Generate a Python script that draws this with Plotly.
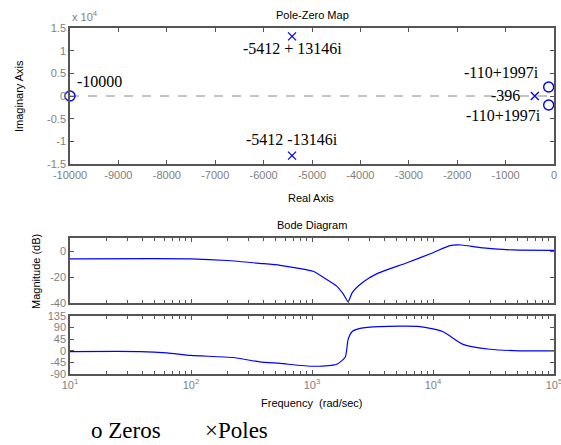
import plotly.graph_objects as go

# ---------------- data ----------------
zero_re = [-10000, -110, -110]
zero_im = [0, 1997, -1997]
pole_re = [-5412, -5412, -396]
pole_im = [13146, -13146, 0]

pz_labels = ["-10000", "-5412 + 13146i", "-5412 -13146i", "-110+1997i", "-396", "-110+1997i"]
pz_label_re = [-10000, -5412, -5412, -110, -396, -110]
pz_label_im = [0, 13146, -13146, 1997, 0, -1997]

freq_mag = [10, 100, 200, 370, 545, 800, 1020, 1230, 1600, 1810, 1990, 2150, 2600,
            3450, 6100, 10000, 13800, 17200, 24500, 46000, 100000]
mag_db = [-6, -6, -7.3, -9.5, -11, -13.5, -15.6, -20, -27, -33, -39, -32, -24.4,
          -17.4, -9, -1.3, 4.2, 4.6, 2.6, 0.8, 0.5]

freq_ph = [10, 38, 63, 100, 222, 370, 545, 1020, 1600, 1880, 1990, 2150, 2500,
           3650, 7800, 12000, 17700, 29500, 52000, 100000]
phase_deg = [-3, -3, -8, -18, -26, -43, -49, -60, -52, -25, 45, 75, 87,
             94, 94, 75, 25, 6, 0, 0]

pz_xticks = [-10000, -9000, -8000, -7000, -6000, -5000, -4000, -3000, -2000, -1000, 0]
pz_xticktext = ["-10000", "-9000", "-8000", "-7000", "-6000", "-5000", "-4000",
                "-3000", "-2000", "-1000", "0"]
pz_yticks = [-15000, -10000, -5000, 0, 5000, 10000, 15000]
pz_yticktext = ["-1.5", "-1", "-0.5", "0", "0.5", "1", "1.5"]
mag_ticks = [-40, -20, 0]
mag_ticktext = ["-40", "-20", "0"]
ph_ticks = [-90, -45, 0, 45, 90, 135]
ph_ticktext = ["-90", "-45", "0", "45", "90", "135"]
freq_ticks = [10, 100, 1000, 10000, 100000]
freq_ticktext = ["10<sup>1</sup>", "10<sup>2</sup>", "10<sup>3</sup>", "10<sup>4</sup>", "10<sup>5</sup>"]
freq_minor = [m * d for d in (10, 100, 1000, 10000) for m in range(2, 10)]

# ---------------- styling ----------------
W, H = 561, 445
BLUE = "#0000FF"
AX = "#555555"
TICKC = "#808080"
SANS = "Arial, Liberation Sans, sans-serif"
SERIF = "Times New Roman, Liberation Serif, serif"

def px(x):
    return x / W

def py(y):
    return 1 - y / H

xdom = [px(70), px(554)]

fig = go.Figure()

# pole-zero
fig.add_trace(go.Scatter(x=zero_re, y=zero_im, mode="markers", xaxis="x", yaxis="y",
                         marker=dict(symbol="circle-open", size=10, color=BLUE, line=dict(width=1.4)),
                         cliponaxis=False, showlegend=False))
fig.add_trace(go.Scatter(x=pole_re, y=pole_im, mode="markers", xaxis="x", yaxis="y",
                         marker=dict(symbol="x-thin-open", size=8, color=BLUE, line=dict(width=1.3, color=BLUE)),
                         cliponaxis=False, showlegend=False))
# bode
fig.add_trace(go.Scatter(x=freq_mag, y=mag_db, mode="lines", xaxis="x2", yaxis="y2",
                         line=dict(color=BLUE, width=1.2, shape="spline", smoothing=0.6), showlegend=False))
fig.add_trace(go.Scatter(x=freq_ph, y=phase_deg, mode="lines", xaxis="x3", yaxis="y3",
                         line=dict(color=BLUE, width=1.2, shape="spline", smoothing=0.6), showlegend=False))

common = dict(showgrid=False, zeroline=False, showline=True, linecolor=AX, linewidth=1.5,
              mirror="ticks", ticks="inside", ticklen=4, tickcolor=AX, tickwidth=1,
              automargin=False, tickmode="array", ticklabeloverflow="allow",
              tickfont=dict(family=SANS, size=11, color=TICKC))

logcommon = dict(common, type="log", range=[1, 5], tickvals=freq_ticks,
                 minor=dict(tickmode="array", tickvals=freq_minor, ticks="inside",
                            ticklen=3, tickcolor=AX, tickwidth=1, showgrid=False))

fig.update_layout(
    template="none",
    width=W, height=H, margin=dict(l=0, r=0, t=0, b=0, pad=0),
    paper_bgcolor="white", plot_bgcolor="white",
    xaxis=dict(common, domain=xdom, range=[-10000, 0], tickvals=pz_xticks,
               ticktext=pz_xticktext, anchor="y"),
    yaxis=dict(common, domain=[py(164), py(28)], range=[-15000, 15000], tickvals=pz_yticks,
               ticktext=pz_yticktext, anchor="x"),
    xaxis2=dict(logcommon, domain=xdom, showticklabels=False, anchor="y2"),
    yaxis2=dict(common, domain=[py(303), py(238)], range=[-40, 10], tickvals=mag_ticks,
                ticktext=mag_ticktext, anchor="x2"),
    xaxis3=dict(logcommon, domain=xdom, ticktext=freq_ticktext, anchor="y3"),
    yaxis3=dict(common, domain=[py(374), py(316)], range=[-90, 135], tickvals=ph_ticks,
                ticktext=ph_ticktext, anchor="x3"),
)

# dashed zero line
fig.add_shape(type="line", xref="x domain", yref="y", x0=0, x1=1, y0=0, y1=0,
              line=dict(color="#888888", width=1, dash="dash"), layer="below")

# pole-zero labels (offsets relative to the data points)
shifts = [(5, 14, "left"), (0, -12, "center"), (0, 16, "center"),
          (-8, 14, "right"), (-13, 0, "right"), (-6, -10, "right")]
for txt, xr, yi, (dx, dy, xa) in zip(pz_labels, pz_label_re, pz_label_im, shifts):
    fig.add_annotation(x=xr, y=yi, xref="x", yref="y", text=txt, showarrow=False,
                       xanchor=xa, yanchor="middle", xshift=dx, yshift=dy,
                       font=dict(family=SERIF, size=16, color="black"))

def ptext(x, y, text, size=11, color="black", family=SANS, angle=0, xanchor="center",
          yanchor="middle"):
    fig.add_annotation(x=px(x), y=py(y), xref="paper", yref="paper", text=text,
                       showarrow=False, xanchor=xanchor, yanchor=yanchor, textangle=angle,
                       font=dict(family=family, size=size, color=color))

ptext(312, 15, "Pole-Zero Map")
ptext(70, 16, "x 10<sup>4</sup>", color=TICKC, xanchor="left")
ptext(311, 198, "Real Axis")
ptext(19, 96, "Imaginary Axis", angle=-90)
ptext(312, 225, "Bode Diagram")
ptext(36, 272, "Magnitude (dB)", angle=-90)
ptext(311, 403, "Frequency  (rad/sec)")
ptext(89, 445, "o Zeros", size=23, family=SERIF, xanchor="left", yanchor="bottom")
ptext(203, 445, "×Poles", size=23, family=SERIF, xanchor="left", yanchor="bottom")

fig.write_html("out.html", config={"displayModeBar": False},
               post_script="document.body.style.margin='0';document.body.style.overflow='hidden';")
